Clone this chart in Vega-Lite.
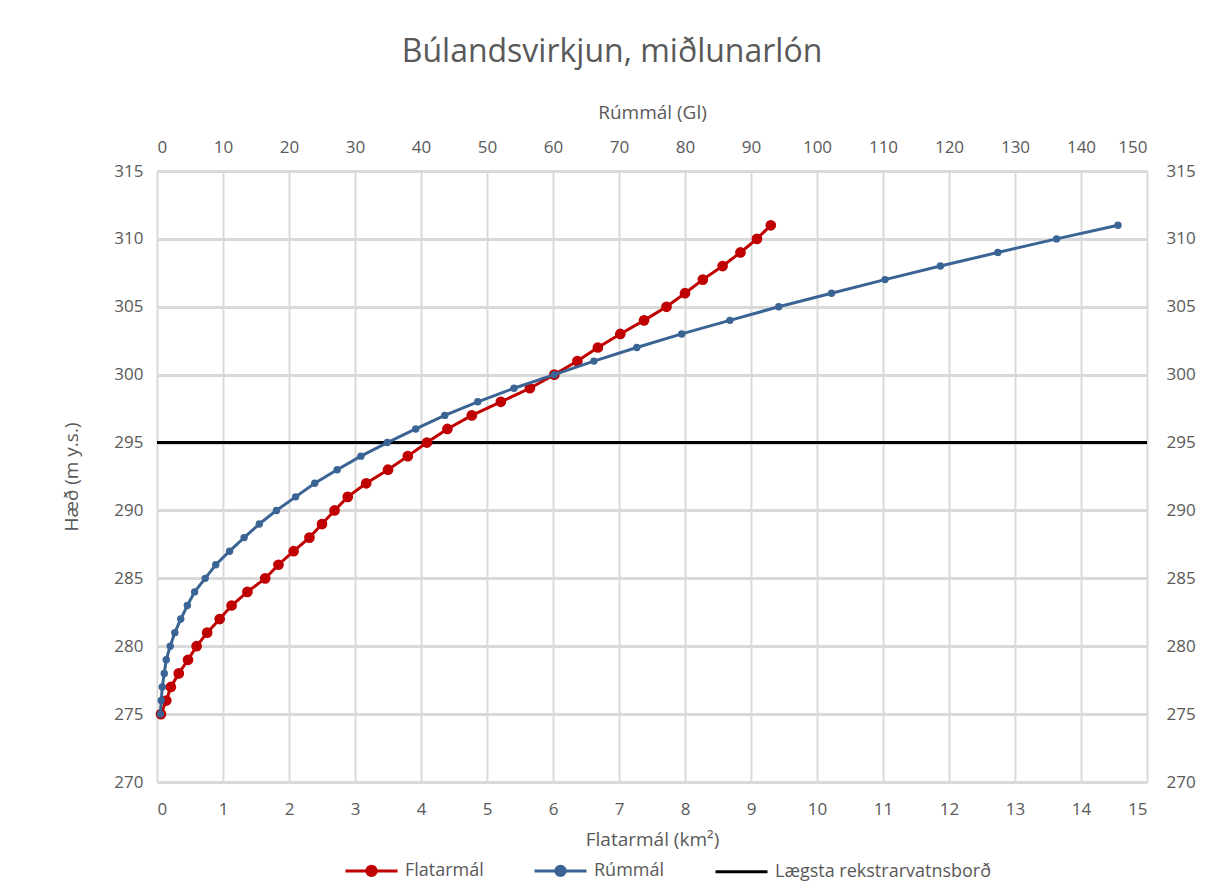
{
  "$schema": "https://vega.github.io/schema/vega-lite/v6.json",
  "width": 990,
  "height": 611,
  "autosize": {"type": "none"},
  "padding": {"left": 157, "top": 171, "right": 66, "bottom": 109},
  "background": "white",
  "title": {
    "text": "Búlandsvirkjun, miðlunarlón",
    "font": "Open Sans",
    "fontSize": 32,
    "fontWeight": "normal",
    "color": "#595959",
    "anchor": "middle",
    "dx": -40,
    "offset": 34
  },
  "config": {
    "font": "Open Sans",
    "view": {"stroke": null},
    "axis": {
      "labelFont": "Open Sans",
      "labelFontSize": 17,
      "labelColor": "#595959",
      "titleFont": "Open Sans",
      "titleFontSize": 19,
      "titleFontWeight": "normal",
      "titleColor": "#595959",
      "domain": false,
      "ticks": false,
      "gridColor": "#d9d9d9"
    },
    "legend": {
      "labelFont": "Open Sans",
      "labelFontSize": 18,
      "labelColor": "#595959"
    }
  },
  "datasets": {
    "flat": [
      {"h": 275, "km2": 0.06}, {"h": 276, "km2": 0.14}, {"h": 277, "km2": 0.21}, {"h": 278, "km2": 0.33},
      {"h": 279, "km2": 0.47}, {"h": 280, "km2": 0.60}, {"h": 281, "km2": 0.76}, {"h": 282, "km2": 0.95},
      {"h": 283, "km2": 1.13}, {"h": 284, "km2": 1.37}, {"h": 285, "km2": 1.64}, {"h": 286, "km2": 1.84},
      {"h": 287, "km2": 2.07}, {"h": 288, "km2": 2.31}, {"h": 289, "km2": 2.50}, {"h": 290, "km2": 2.69},
      {"h": 291, "km2": 2.89}, {"h": 292, "km2": 3.17}, {"h": 293, "km2": 3.50}, {"h": 294, "km2": 3.80},
      {"h": 295, "km2": 4.09}, {"h": 296, "km2": 4.40}, {"h": 297, "km2": 4.77}, {"h": 298, "km2": 5.21},
      {"h": 299, "km2": 5.65}, {"h": 300, "km2": 6.02}, {"h": 301, "km2": 6.37}, {"h": 302, "km2": 6.68},
      {"h": 303, "km2": 7.02}, {"h": 304, "km2": 7.38}, {"h": 305, "km2": 7.72}, {"h": 306, "km2": 8.00},
      {"h": 307, "km2": 8.27}, {"h": 308, "km2": 8.57}, {"h": 309, "km2": 8.84}, {"h": 310, "km2": 9.09},
      {"h": 311, "km2": 9.30}
    ],
    "vol": [
      {"h": 275, "gl": 0.5}, {"h": 276, "gl": 0.65}, {"h": 277, "gl": 0.8}, {"h": 278, "gl": 1.1},
      {"h": 279, "gl": 1.4}, {"h": 280, "gl": 2.0}, {"h": 281, "gl": 2.7}, {"h": 282, "gl": 3.6},
      {"h": 283, "gl": 4.6}, {"h": 284, "gl": 5.7}, {"h": 285, "gl": 7.3}, {"h": 286, "gl": 8.9},
      {"h": 287, "gl": 11.0}, {"h": 288, "gl": 13.2}, {"h": 289, "gl": 15.5}, {"h": 290, "gl": 18.1},
      {"h": 291, "gl": 21.0}, {"h": 292, "gl": 23.9}, {"h": 293, "gl": 27.3}, {"h": 294, "gl": 30.9},
      {"h": 295, "gl": 34.9}, {"h": 296, "gl": 39.2}, {"h": 297, "gl": 43.6}, {"h": 298, "gl": 48.6},
      {"h": 299, "gl": 54.1}, {"h": 300, "gl": 60.2}, {"h": 301, "gl": 66.2}, {"h": 302, "gl": 72.7},
      {"h": 303, "gl": 79.5}, {"h": 304, "gl": 86.8}, {"h": 305, "gl": 94.2}, {"h": 306, "gl": 102.2},
      {"h": 307, "gl": 110.3}, {"h": 308, "gl": 118.7}, {"h": 309, "gl": 127.4}, {"h": 310, "gl": 136.3},
      {"h": 311, "gl": 145.6}
    ],
    "lowest": [{"h": 295}]
  },
  "layer": [
    {
      "data": {"name": "lowest"},
      "transform": [{"calculate": "'Lægsta rekstrarvatnsborð'", "as": "series"}],
      "mark": {"type": "rule", "strokeWidth": 3},
      "encoding": {
        "y": {"field": "h", "type": "quantitative", "scale": {"domain": [270, 315]}, "axis": null},
        "color": {"field": "series", "type": "nominal"}
      }
    },
    {
      "data": {"name": "flat"},
      "transform": [{"calculate": "'Flatarmál'", "as": "series"}],
      "mark": {"type": "line", "strokeWidth": 3, "point": {"filled": true, "size": 115, "opacity": 1}},
      "encoding": {
        "x": {
          "field": "km2", "type": "quantitative",
          "scale": {"domain": [0, 15], "nice": false, "zero": true},
          "axis": {"orient": "bottom", "title": "Flatarmál (km²)", "values": [0,1,2,3,4,5,6,7,8,9,10,11,12,13,14,15], "grid": true, "gridWidth": 2, "labelPadding": 19, "titlePadding": 13}
        },
        "y": {
          "field": "h", "type": "quantitative",
          "scale": {"domain": [270, 315], "nice": false, "zero": false},
          "axis": {"orient": "left", "title": "Hæð (m y.s.)", "values": [270,275,280,285,290,295,300,305,310,315], "grid": true, "gridWidth": 3, "labelPadding": 14, "titlePadding": 32}
        },
        "color": {
          "field": "series", "type": "nominal",
          "scale": {"domain": ["Flatarmál", "Rúmmál", "Lægsta rekstrarvatnsborð"], "range": ["#C00000", "#3A6494", "#000000"]},
          "legend": {
            "title": null,
            "orient": "none",
            "direction": "horizontal",
            "legendX": 187,
            "legendY": 672,
            "symbolSize": 2704,
            "symbolStrokeWidth": 3,
            "labelOffset": 6,
            "labelLimit": 400,
            "columnPadding": 44,
            "encode": {
              "symbols": {
                "update": {
                  "shape": {"signal": "datum.value === 'Lægsta rekstrarvatnsborð' ? 'M-1,0H1' : 'M-1,0H1M0.18,0A0.18,0.18 0 1,1 -0.18,0A0.18,0.18 0 1,1 0.18,0'"},
                  "fill": {"signal": "datum.value === 'Lægsta rekstrarvatnsborð' ? 'transparent' : scale('color', datum.value)"},
                  "stroke": {"scale": "color", "field": "value"}
                }
              }
            }
          }
        }
      }
    },
    {
      "data": {"name": "vol"},
      "transform": [{"calculate": "'Rúmmál'", "as": "series"}],
      "mark": {"type": "line", "strokeWidth": 3, "point": {"filled": true, "size": 55, "opacity": 1}},
      "encoding": {
        "x": {
          "field": "gl", "type": "quantitative",
          "scale": {"domain": [0, 150], "nice": false, "zero": true},
          "axis": {"orient": "top", "title": "Rúmmál (Gl)", "values": [0,10,20,30,40,50,60,70,80,90,100,110,120,130,140,150], "grid": false, "labelPadding": 15, "titlePadding": 16}
        },
        "y": {
          "field": "h", "type": "quantitative",
          "scale": {"domain": [270, 315], "nice": false, "zero": false},
          "axis": {"orient": "right", "title": null, "values": [270,275,280,285,290,295,300,305,310,315], "grid": false, "labelPadding": 19}
        },
        "color": {"field": "series", "type": "nominal"}
      }
    }
  ],
  "resolve": {"scale": {"x": "independent", "y": "independent"}}
}
